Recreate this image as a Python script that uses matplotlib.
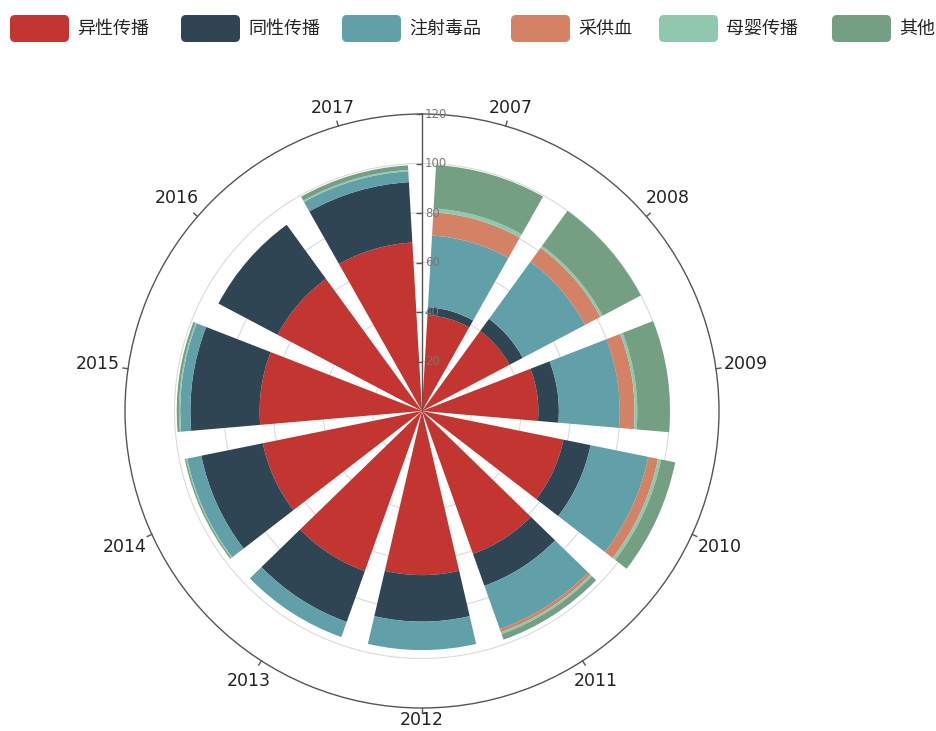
import numpy as np
import matplotlib
matplotlib.use('Agg')
import matplotlib.pyplot as plt
from matplotlib.patches import FancyBboxPatch
from matplotlib.markers import TICKLEFT

plt.rcParams['font.family'] = ['Noto Sans CJK SC', 'DejaVu Sans']

years = ['2007', '2008', '2009', '2010', '2011', '2012',
         '2013', '2014', '2015', '2016', '2017']
hetero = [38.8, 40.0, 47.0, 58.3, 61.3, 66.3, 68.7, 65.6, 65.6, 66.0, 68.2]
homo = [3.2, 6.0, 8.3, 11.2, 13.7, 18.8, 21.8, 25.4, 28.0, 27.0, 24.4]
drugs = [29.0, 28.5, 24.6, 23.8, 18.6, 11.5, 6.5, 5.8, 4.1, 0.0, 4.4]
blood = [9.4, 7.0, 6.0, 4.0, 1.3, 0.0, 0.0, 0.0, 0.0, 0.0, 0.0]
mother = [1.6, 1.0, 1.1, 1.3, 0.8, 0.0, 0.0, 0.4, 0.5, 0.0, 0.6]
other = [17.5, 17.5, 13.2, 5.8, 2.4, 0.0, 0.0, 0.6, 0.9, 0.0, 1.8]

series_names = ['异性传播', '同性传播', '注射毒品', '采供血', '母婴传播', '其他']
series = [hetero, homo, drugs, blood, mother, other]
colors = ['#c23531', '#2f4554', '#61a0a8', '#d48265', '#91c7ae', '#749f83']
radius_ticks = [20, 40, 60, 80, 100, 120]

W, H = 936, 731
fig = plt.figure(figsize=(W / 100, H / 100), dpi=100)

# polar grid geometry (pixels)
cx, cy, R = 422, 411, 297
rmax = 120
px_per_unit = R / rmax
ax = fig.add_axes([(cx - R) / W, (H - cy - R) / H, 2 * R / W, 2 * R / H],
                  projection='polar')
ax.set_theta_zero_location('N')
ax.set_theta_direction(-1)
ax.set_ylim(0, rmax)
ax.set_xticks([])
ax.set_yticks([])
ax.grid(False)
ax.spines['polar'].set_color('#555')
ax.spines['polar'].set_linewidth(1)

n = len(years)
step = 2 * np.pi / n
theta = (np.arange(n) + 0.5) * step

# split circles, visible only in the gaps
tt = np.linspace(0, 2 * np.pi, 500)
for r in radius_ticks[:-1]:
    ax.plot(tt, np.full_like(tt, r), color='#dadada', lw=0.8, zorder=0)

bottom = np.zeros(n)
for vals, c in zip(series, colors):
    vals = np.array(vals)
    ax.bar(theta, vals, width=step * 0.8, bottom=bottom, color=c,
           linewidth=0, zorder=2)
    bottom += vals

# radius axis
ax.plot([0, 0], [0, rmax], color='#555', lw=1, zorder=3)
ax.plot(np.zeros(len(radius_ticks)), radius_ticks, ls='none', marker=TICKLEFT,
        ms=4, mew=1, color='#555', zorder=3, clip_on=False)
for v in radius_ticks:
    ax.annotate(str(v), xy=(0, v), xytext=(2, 0), textcoords='offset points',
                ha='left', va='center', fontsize=8.5, color='#777',
                family='DejaVu Sans', zorder=4)

# angle axis ticks and labels
for t, y in zip(theta, years):
    ax.plot([t, t], [rmax, rmax + 5 / px_per_unit], color='#555', lw=1,
            clip_on=False)
    r_px = 303 + 24 * abs(np.sin(t)) + 6 * abs(np.cos(t))
    ax.text(t, r_px / px_per_unit, y, ha='center', va='center',
            fontsize=12.5, color='#222', family='DejaVu Sans')

# legend
lax = fig.add_axes([0, 0, 1, 1])
lax.set_xlim(0, W)
lax.set_ylim(H, 0)
lax.axis('off')
legend_x = [10, 181, 342, 511, 659, 832]
for x, name, c in zip(legend_x, series_names, colors):
    lax.add_patch(FancyBboxPatch((x, 15), 59, 27,
                                 boxstyle='round,pad=0,rounding_size=5',
                                 fc=c, ec='none'))
    lax.text(x + 67, 29, name, ha='left', va='center', fontsize=13,
             color='#222')

fig.savefig('out.png', dpi=100)
